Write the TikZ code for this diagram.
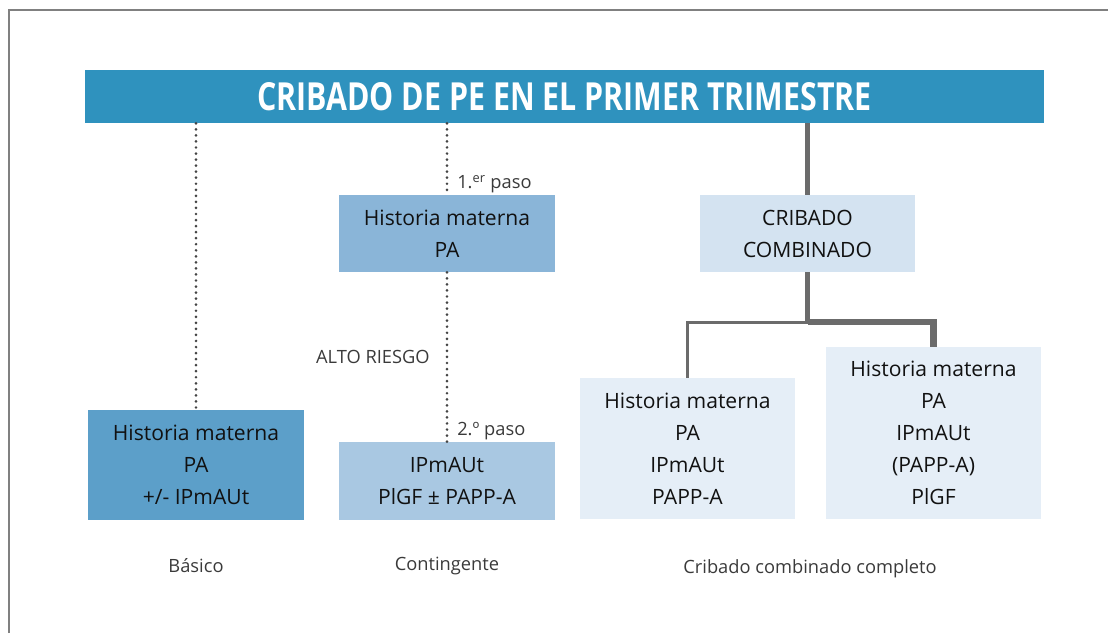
\documentclass[tikz,border=0pt]{standalone}
\usepackage{fontspec}
\setmainfont{Open Sans}
\newfontfamily\condfont[FakeStretch=0.785]{Open Sans}
\usetikzlibrary{positioning}
\definecolor{barblue}{HTML}{2F92BE}
\definecolor{basblue}{HTML}{5C9FC9}
\definecolor{stepone}{HTML}{8AB5D8}
\definecolor{steptwo}{HTML}{A9C8E2}
\definecolor{combblue}{HTML}{D4E3F1}
\definecolor{fullblue}{HTML}{E5EEF7}
\definecolor{boxtext}{HTML}{111111}
\definecolor{lbltext}{HTML}{3A3A3A}
\definecolor{dotgray}{HTML}{444444}
\definecolor{linkgray}{HTML}{6B6B6B}

\begin{document}
\begin{tikzpicture}[x=0.025cm,y=-0.025cm,node distance=0.9cm,
    box/.style={inner sep=0pt,minimum width=5.375cm,align=center,text=boxtext,font=\fontsize{15}{22.7}\selectfont},
    lbl/.style={inner sep=0pt,text=lbltext,font=\fontsize{13}{15}\selectfont},
    dots/.style={draw=dotgray,line width=2.1pt,line cap=round,dash pattern=on 0pt off 4.3pt},
    link/.style={draw=linkgray,line width=3.5pt}]
  \useasboundingbox (0,0) rectangle (1108,633);
  \draw[gray,line width=1.5pt] (9,633) -- (9,10) -- (1108,10);

  \node (CP) [fill=barblue,minimum width=23.975cm,minimum height=1.325cm,inner sep=0pt,text=white,
    font=\condfont\bfseries\fontsize{27.5}{30}\selectfont] at (564.5,96.5) {CRIBADO DE PE EN EL PRIMER TRIMESTRE};

  \node (BAS) [box,fill=basblue,minimum width=5.4cm,minimum height=2.75cm] at (196,465) {Historia materna\\PA\\+/- IPmAUt};
  \node (HM1) [box,fill=stepone,minimum height=1.925cm] at (447,233.5) {Historia materna\\PA};
  \node (IP2) [box,fill=steptwo,minimum height=1.95cm] at (447,481) {IPmAUt\\PlGF ± PAPP-A};
  \node (CC) [box,fill=combblue,minimum height=1.925cm] at (807.5,233.5) {CRIBADO\\COMBINADO};
  \node (CC1) [box,fill=fullblue,minimum height=3.525cm] at (687.5,448.5) {Historia materna\\PA\\IPmAUt\\PAPP-A};
  \node (CC2) [box,fill=fullblue,minimum height=4.3cm] at (933.5,433) {Historia materna\\PA\\IPmAUt\\(PAPP-A)\\PlGF};

  \node (P1) [lbl,above right=0.03cm and 0.25cm of HM1.north] {1.\textsuperscript{er} paso};
  \node (P2) [lbl,above right=0.03cm and 0.25cm of IP2.north] {2.º paso};
  \node (AR) [lbl,anchor=east] at (430,357) {ALTO RIESGO};

  \node (LB) [lbl,below=0.95cm of BAS] {Básico};
  \node (LC) [lbl,below=of IP2] {Contingente};
  \node (LF) [lbl] at (810,569) {Cribado combinado completo};

  \draw[dots] (BAS.north |- CP.south) -- (BAS.north);
  \draw[dots] (HM1.north |- CP.south) -- (HM1.north);
  \draw[dots] (HM1.south) -- (IP2.north);
  \draw[link] (CC.north |- CP.south) -- (CC.north);
  \draw[link] (CC.south) -- ++(0,50) coordinate (J);
  \draw[link,line width=2.2pt] (J) -| (CC1.north);
  \draw[link,line width=4.3pt] (J) -| (CC2.north);
\end{tikzpicture}
\end{document}
